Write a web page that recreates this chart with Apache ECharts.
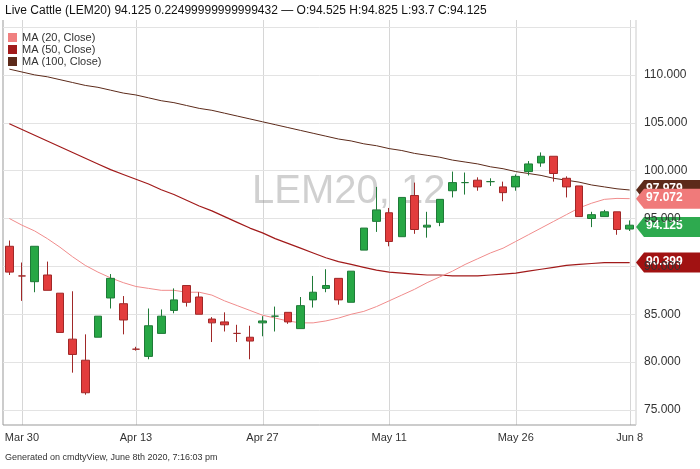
<!DOCTYPE html>
<html><head><meta charset="utf-8">
<script src="https://cdn.jsdelivr.net/npm/echarts@6/dist/echarts.min.js"></script>
<style>html,body{margin:0;padding:0;background:#fff}#c{width:700px;height:469px}</style>
</head><body><div id="c"></div>
<script>
const dates = ['Mar 27','Mar 30','Mar 31','Apr 1','Apr 2','Apr 3','Apr 6','Apr 7','Apr 8','Apr 9','Apr 13','Apr 14','Apr 15','Apr 16','Apr 17','Apr 20','Apr 21','Apr 22','Apr 23','Apr 24','Apr 27','Apr 28','Apr 29','Apr 30','May 1','May 4','May 5','May 6','May 7','May 8','May 11','May 12','May 13','May 14','May 15','May 18','May 19','May 20','May 21','May 22','May 26','May 27','May 28','May 29','Jun 1','Jun 2','Jun 3','Jun 4','Jun 5','Jun 8'];
const xLabels = ['Mar 30','Apr 13','Apr 27','May 11','May 26','Jun 8'];
// [open, close, low, high]
const ohlc = [
[92.1,89.4,89.1,92.7],[89.0,89.0,86.4,90.4],[88.4,92.1,87.3,92.1],[89.1,87.5,87.5,90.5],[87.2,83.1,83.1,87.2],
[82.4,80.8,78.9,87.4],[80.2,76.8,76.6,82.9],[82.6,84.8,82.6,84.8],[86.7,88.75,85.6,89.2],[86.1,84.4,82.9,86.9],
[81.35,81.35,81.2,81.6],[80.6,83.8,80.3,85.6],[83.0,84.8,83.0,85.5],[85.4,86.5,85.1,87.7],[88.0,86.25,85.8,88.0],
[86.8,85.0,85.0,87.3],[84.5,84.1,82.1,84.7],[84.2,83.9,83.2,85.2],[83.0,83.0,82.1,83.9],[82.6,82.2,80.3,83.8],
[84.1,84.3,82.7,84.8],[84.8,84.8,83.2,85.8],[85.2,84.2,84.0,85.2],[83.5,85.9,83.5,86.8],[86.5,87.3,85.7,89.0],
[87.7,88.0,87.3,89.7],[88.75,86.5,86.0,88.75],[86.25,89.5,86.25,89.5],[91.7,94.0,91.7,94.0],[94.7,95.9,93.6,98.3],
[95.6,92.6,92.1,96.1],[93.1,97.2,93.1,97.2],[97.4,93.85,93.4,98.75],[94.1,94.3,93.0,95.7],[94.6,97.0,94.2,97.0],
[97.9,98.75,97.2,99.9],[98.75,98.75,97.5,99.8],[99.0,98.3,97.9,99.3],[98.85,98.85,98.4,99.2],[98.3,97.7,96.8,98.85],
[98.3,99.4,97.9,99.6],[99.9,100.7,99.5,101.0],[100.8,101.5,100.4,101.9],[101.5,99.7,98.85,101.5],[99.2,98.3,97.2,99.4],
[98.4,95.2,95.2,98.4],[95.0,95.4,94.1,95.7],[95.2,95.7,95.2,95.9],[95.7,93.85,93.3,95.7],[93.9,94.3,93.7,94.8]
];
const ma20 = [95.0,94.3,93.7,92.9,92.0,91.0,90.1,89.4,88.8,88.3,87.9,87.7,87.5,87.5,87.3,87.3,87.0,86.4,85.9,85.4,84.9,84.6,84.3,84.1,84.1,84.3,84.6,85.0,85.3,85.8,86.4,87.0,87.6,88.3,88.9,89.5,90.2,90.8,91.4,91.9,92.6,93.3,94.0,94.7,95.4,96.1,96.6,97.0,97.1,97.072];
const ma50 = [104.9,104.3,103.7,103.1,102.5,101.9,101.3,100.7,100.1,99.6,99.1,98.6,98.0,97.5,96.9,96.3,95.8,95.2,94.6,94.0,93.5,92.9,92.4,91.9,91.4,90.9,90.5,90.2,89.9,89.6,89.4,89.3,89.2,89.1,89.1,89.0,89.0,89.0,89.1,89.2,89.3,89.5,89.7,89.9,90.1,90.2,90.3,90.4,90.4,90.399];
const ma100 = [110.6,110.3,110.0,109.8,109.5,109.2,108.9,108.7,108.4,108.1,107.9,107.6,107.3,107.1,106.8,106.5,106.3,106.0,105.7,105.4,105.1,104.8,104.5,104.2,103.9,103.6,103.3,103.1,102.8,102.6,102.3,102.1,101.8,101.6,101.4,101.1,100.9,100.7,100.4,100.2,99.9,99.7,99.5,99.2,99.0,98.8,98.5,98.3,98.1,97.979];
const lastClose = 94.125;

const chart = echarts.init(document.getElementById('c'));
const F = 'Liberation Sans, Arial, sans-serif';
const last = ohlc.length-1;
const baseGraphic = [
    {type:'text',left:5,top:5,style:{text:'Live Cattle (LEM20) 94.125 0.22499999999999432 — O:94.525 H:94.825 L:93.7 C:94.125',fill:'#111',font:'12px '+F}},
    {type:'rect',left:8,top:33,shape:{width:9,height:9},style:{fill:'#f08080'}},
    {type:'text',left:22,top:32,style:{text:'MA (20, Close)',fill:'#333',font:'11px '+F}},
    {type:'rect',left:8,top:45,shape:{width:9,height:9},style:{fill:'#a11a1a'}},
    {type:'text',left:22,top:44,style:{text:'MA (50, Close)',fill:'#333',font:'11px '+F}},
    {type:'rect',left:8,top:57,shape:{width:9,height:9},style:{fill:'#5c2a1a'}},
    {type:'text',left:22,top:56,style:{text:'MA (100, Close)',fill:'#333',font:'11px '+F}},
    {type:'text',left:252,top:172,z:-1,style:{text:'LEM20, 12',fill:'rgba(150,150,150,0.45)',font:'40px '+F}},
    {type:'line',shape:{x1:3,y1:20,x2:3,y2:425},style:{stroke:'#999',lineWidth:1}},
    {type:'line',shape:{x1:3,y1:425,x2:636,y2:425},style:{stroke:'#999',lineWidth:1}},
    {type:'line',shape:{x1:636,y1:20,x2:636,y2:425},style:{stroke:'#ccc',lineWidth:1}},
    {type:'text',left:5,top:453,style:{text:'Generated on cmdtyView, June 8th 2020, 7:16:03 pm',fill:'#333',font:'9px '+F}}
];
chart.setOption({
  animation:false,
  grid:{left:3,right:64,top:27,bottom:59},
  xAxis:{type:'category',data:dates,boundaryGap:true,
    axisLine:{show:false},axisTick:{show:false},
    axisLabel:{interval:(i,v)=>xLabels.includes(v),margin:22,color:'#333',fontSize:11,fontFamily:F},
    splitLine:{show:false}},
  yAxis:{type:'value',position:'right',min:75,max:115,interval:5,
    axisLine:{show:false},axisTick:{show:false},
    axisLabel:{color:'#333',fontSize:12,fontFamily:F,margin:8,formatter:v=>v===115?'':v.toFixed(3)},
    splitLine:{lineStyle:{color:'#e3e3e3'}}},
  graphic:baseGraphic,
  series:[
    {type:'line',data:ma100,symbol:'none',lineStyle:{color:'#5c2a1a',width:1},z:2},
    {type:'line',data:ma50,symbol:'none',lineStyle:{color:'#a11a1a',width:1.2},z:2},
    {type:'line',data:ma20,symbol:'none',lineStyle:{color:'#f08c8c',width:1},z:2},
    {type:'candlestick',data:ohlc,barWidth:8,z:5,
      itemStyle:{color:'#27a745',color0:'#e23c3c',borderColor:'#1f7a38',borderColor0:'#a02828',borderWidth:1}}
  ]
});
const extra = [];
xLabels.forEach(d=>{
  const x = Math.round(chart.convertToPixel({xAxisIndex:0}, d))+0.5;
  extra.push({type:'line',z:-2,shape:{x1:x,y1:20,x2:x,y2:425},style:{stroke:'#d6d6d6',lineWidth:1}});
});
function tag(val,bg,z){
  const y = chart.convertToPixel({yAxisIndex:0}, val);
  extra.push({type:'group',z:z,children:[
    {type:'polygon',shape:{points:[[636,y],[644,y-10],[700,y-10],[700,y+10],[644,y+10]]},style:{fill:bg}},
    {type:'text',x:646,y:y-7,style:{text:val.toFixed(3),fill:'#fff',font:'bold 12px '+F}}
  ]});
}
tag(ma100[last],'#5c2a1a',10);
tag(ma50[last],'#a11212',11);
tag(ma20[last],'#f07a7a',12);
tag(lastClose,'#2eaa4f',13);
chart.setOption({graphic:baseGraphic.concat(extra)});
</script></body></html>
